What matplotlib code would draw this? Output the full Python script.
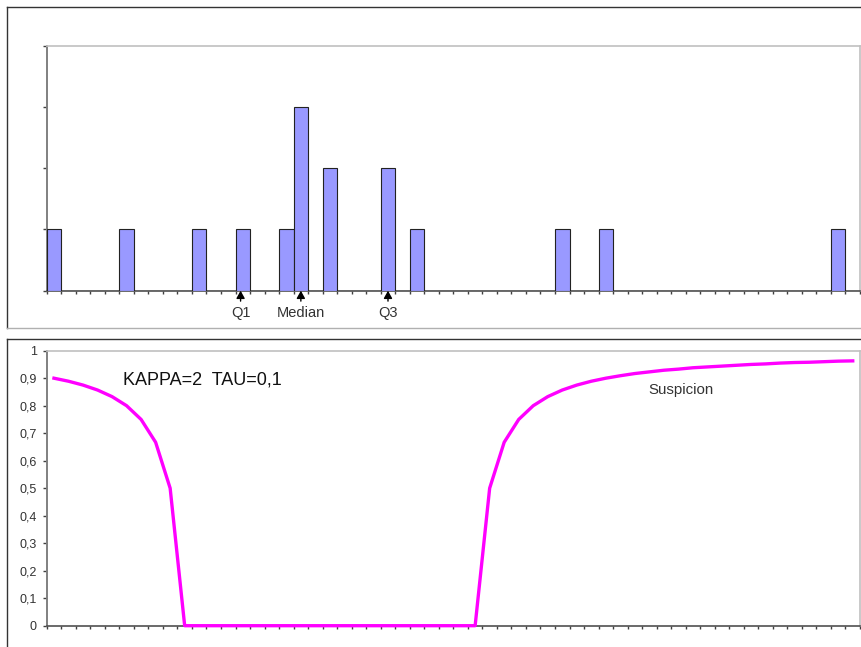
import matplotlib
matplotlib.use("Agg")
import matplotlib.pyplot as plt
from matplotlib.lines import Line2D
import numpy as np

plt.rcParams['font.family'] = ['Liberation Sans', 'DejaVu Sans']

# ---- data ----
n_bins = 56
counts = [1, 0, 0, 0, 0, 1, 0, 0, 0, 0,
          1, 0, 0, 1, 0, 0, 1, 3, 0, 2,
          0, 0, 0, 2, 0, 1, 0, 0, 0, 0,
          0, 0, 0, 0, 0, 1, 0, 0, 1, 0,
          0, 0, 0, 0, 0, 0, 0, 0, 0, 0,
          0, 0, 0, 0, 1, 0]
quartile_labels = ["Q1", "Median", "Q3"]
quartile_pos = [13.35, 17.5, 23.5]

suspicion = [0.9, 0.889, 0.875, 0.857, 0.833, 0.8, 0.75, 0.667, 0.5, 0,
             0, 0, 0, 0, 0, 0, 0, 0, 0, 0,
             0, 0, 0, 0, 0, 0, 0, 0, 0, 0,
             0.5, 0.667, 0.75, 0.8, 0.833, 0.857, 0.875, 0.889, 0.9, 0.909,
             0.917, 0.923, 0.929, 0.933, 0.938, 0.941, 0.944, 0.947, 0.95, 0.952,
             0.955, 0.957, 0.958, 0.96, 0.962, 0.963]
y_ticks = [0, 0.1, 0.2, 0.3, 0.4, 0.5, 0.6, 0.7, 0.8, 0.9, 1]
y_tick_labels = ["0", "0,1", "0,2", "0,3", "0,4", "0,5", "0,6", "0,7", "0,8", "0,9", "1"]
annot_text = "KAPPA=2  TAU=0,1"
series_label = "Suspicion"

W, H = 861, 647
fig = plt.figure(figsize=(W / 100, H / 100), dpi=100)

def fx(px):
    return px / W

def fy(py):
    return 1 - py / H

# outer frames
fig.add_artist(Line2D([fx(7), fx(7)], [fy(7), fy(327.7)], color='#333333', lw=1.0))
fig.add_artist(Line2D([fx(7), 1.0], [fy(7), fy(7)], color='#333333', lw=1.0))
fig.add_artist(Line2D([fx(7), 1.0], [fy(327.7), fy(327.7)], color='#b0b0b0', lw=1.0))
fig.add_artist(Line2D([fx(7), 1.0], [fy(339.3), fy(339.3)], color='#333333', lw=1.0))
fig.add_artist(Line2D([fx(7), fx(7)], [fy(339.3), 0.0], color='#333333', lw=1.0))

def style_axes(ax):
    ax.spines['left'].set_color('#808080')
    ax.spines['left'].set_linewidth(1.4)
    ax.spines['bottom'].set_color('#505050')
    ax.spines['bottom'].set_linewidth(1.2)
    for s in ('top', 'right'):
        ax.spines[s].set_color('#c0c0c0')
        ax.spines[s].set_linewidth(1.2)
    ax.tick_params(axis='x', direction='out', length=2.5, width=1.0, color='#404040',
                   labelbottom=False)
    ax.tick_params(axis='y', direction='out', length=3, width=1.0, color='#404040')

# ---- top histogram ----
ax1 = fig.add_axes([fx(46.7), fy(290.7), fx(860 - 46.7), (290.7 - 45.7) / H])
x_bins = np.arange(n_bins)
ax1.bar(x_bins, counts, width=1.0, align='edge', color='#9999ff',
        edgecolor='#222222', linewidth=0.8, zorder=3)
ax1.set_xlim(0, n_bins)
ax1.set_ylim(0, 4)
ax1.set_xticks(np.arange(0, n_bins + 1))
ax1.set_yticks([0, 1, 2, 3, 4])
ax1.set_yticklabels([])
style_axes(ax1)
for lab, pos in zip(quartile_labels, quartile_pos):
    ax1.annotate('', xy=(pos, 0), xytext=(0, -7.5), textcoords='offset points',
                 xycoords='data', annotation_clip=False,
                 arrowprops=dict(arrowstyle='-|>,head_length=0.45,head_width=0.25',
                                 color='black', lw=1.0, shrinkA=0, shrinkB=0))
    ax1.annotate(lab, xy=(pos, 0), xytext=(0, -16), textcoords='offset points',
                 ha='center', va='center', fontsize=10.5, color='#333333',
                 annotation_clip=False)

# ---- bottom line chart ----
ax2 = fig.add_axes([fx(46.7), fy(625.7), fx(860 - 46.7), (625.7 - 350.7) / H])
ax2.plot(x_bins + 0.5, suspicion, color='#ff00ff', lw=2.4, clip_on=False, zorder=3)
ax2.set_xlim(0, n_bins)
ax2.set_ylim(0, 1)
ax2.set_xticks(np.arange(0, n_bins + 1))
ax2.set_yticks(y_ticks)
ax2.set_yticklabels(y_tick_labels, fontsize=9, color='#333333')
style_axes(ax2)
ax2.tick_params(axis='y', pad=4)
ax2.text(5.25, 0.893, annot_text, fontsize=13, color='#111111', ha='left', va='center')
ax2.text(43.7, 0.857, series_label, fontsize=10.8, color='#333333', ha='center', va='center')

fig.savefig('out.png', dpi=100)
